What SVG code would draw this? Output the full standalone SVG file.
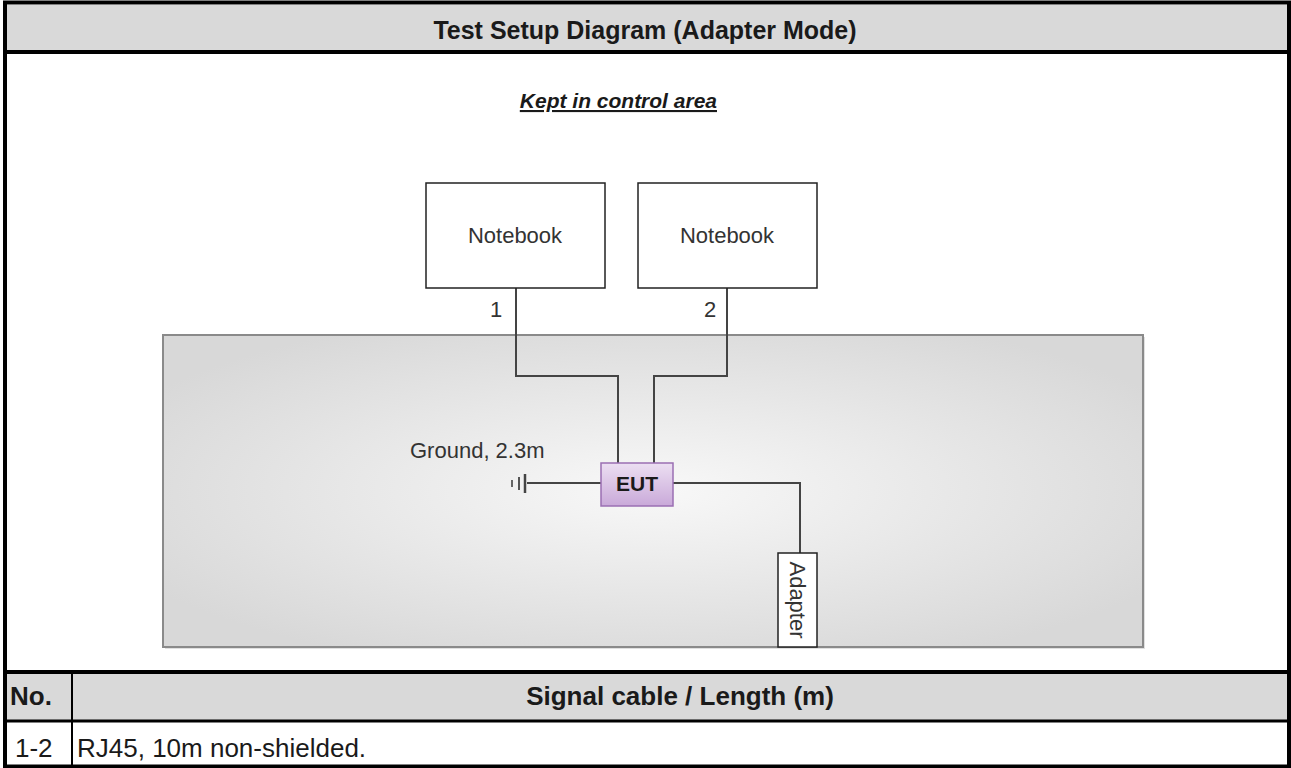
<svg xmlns="http://www.w3.org/2000/svg" width="1291" height="768" viewBox="0 0 1291 768">
<style>
text{font-family:"Liberation Sans",Arial,sans-serif;fill:#1a1a1a}
.hdr{font-weight:bold;font-size:25px;text-anchor:middle}
.lbl{font-size:22px;fill:#333}
.box{fill:#fff;stroke:#222;stroke-width:1.5}
.wire{fill:none;stroke:#444;stroke-width:2}
.tbl{font-size:26px}
</style>
<defs>
<radialGradient id="area" cx="50%" cy="50%" r="60%">
<stop offset="0" stop-color="#f8f8f8"/>
<stop offset="1" stop-color="#d8d8d8"/>
</radialGradient>
<linearGradient id="eut" x1="0" y1="0" x2="0" y2="1">
<stop offset="0" stop-color="#ecdff2"/>
<stop offset="1" stop-color="#c9a9d9"/>
</linearGradient>
</defs>
<rect x="0" y="0" width="1291" height="768" fill="#fff"/>
<g id="frame">
<rect x="5" y="5" width="1283" height="46" fill="#d9d9d9"/>
<rect x="5" y="674" width="1283" height="46" fill="#d9d9d9"/>
<line x1="5" y1="52" x2="1289" y2="52" stroke="#000" stroke-width="4"/>
<line x1="5" y1="672" x2="1289" y2="672" stroke="#000" stroke-width="4"/>
<line x1="5" y1="721" x2="1289" y2="721" stroke="#000" stroke-width="3"/>
<line x1="72" y1="672" x2="72" y2="767" stroke="#000" stroke-width="2"/>
<rect x="5" y="2.5" width="1284" height="764" fill="none" stroke="#000" stroke-width="4"/>
<text class="hdr" x="645" y="39">Test Setup Diagram (Adapter Mode)</text>
<text class="tbl" x="10" y="705" font-weight="bold">No.</text>
<text class="tbl" x="680" y="705" font-weight="bold" text-anchor="middle">Signal cable / Length (m)</text>
<text class="tbl" x="15" y="757">1-2</text>
<text class="tbl" x="77" y="757">RJ45, 10m non-shielded.</text>
</g>
<text x="717" y="108" font-size="21" font-weight="bold" font-style="italic" text-decoration="underline" text-anchor="end">Kept in control area</text>
<g id="control-area">
<rect x="165" y="337" width="980" height="312" fill="#000" opacity="0.12"/>
<rect x="163" y="335" width="980" height="312" fill="url(#area)" stroke="#8a8a8a" stroke-width="2"/>
</g>
<g id="connectors">
<polyline class="wire" points="516,288 516,376 618,376 618,463"/>
<polyline class="wire" points="727,288 727,376 654,376 654,463"/>
<polyline class="wire" points="527,483 601,483"/>
<polyline class="wire" points="673,483 800,483 800,553"/>
<text class="lbl" x="490" y="317" font-size="20">1</text>
<text class="lbl" x="704" y="317" font-size="20">2</text>
</g>
<g id="notebook1">
<rect class="box" x="426" y="183" width="179" height="105"/>
<text class="lbl" x="515" y="243" text-anchor="middle">Notebook</text>
</g>
<g id="notebook2">
<rect class="box" x="638" y="183" width="179" height="105"/>
<text class="lbl" x="727" y="243" text-anchor="middle">Notebook</text>
</g>
<g id="ground">
<text class="lbl" x="410" y="458">Ground, 2.3m</text>
<line x1="525" y1="474" x2="525" y2="493" stroke="#444" stroke-width="2.5"/>
<line x1="519" y1="477" x2="519" y2="490" stroke="#555" stroke-width="2"/>
<line x1="512" y1="480" x2="512" y2="487" stroke="#666" stroke-width="2"/>
</g>
<g id="eut-node">
<rect x="601" y="463" width="72" height="43" fill="url(#eut)" stroke="#9a6fb3" stroke-width="1.5"/>
<text x="637" y="491" font-size="21" font-weight="bold" text-anchor="middle" fill="#222">EUT</text>
</g>
<g id="adapter">
<rect class="box" x="778" y="553" width="39" height="94"/>
<text class="lbl" font-size="21" text-anchor="middle" transform="translate(790,600) rotate(90)">Adapter</text>
</g>
</svg>
